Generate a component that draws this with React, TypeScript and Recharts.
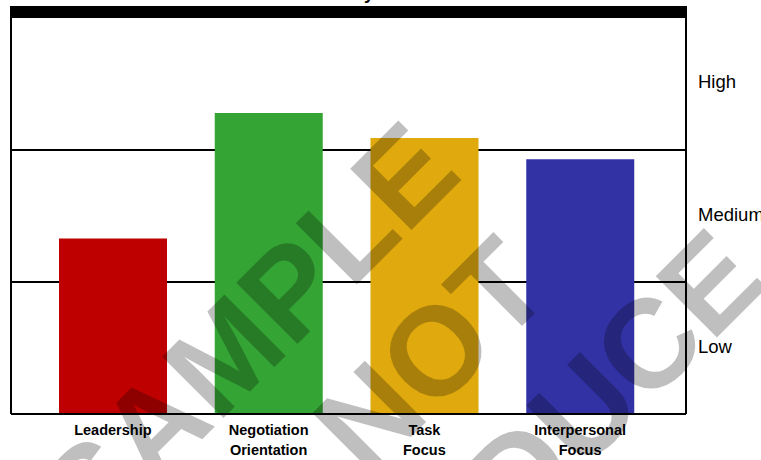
import { Bar, BarChart, CartesianGrid, Cell, ReferenceArea, XAxis, YAxis } from "recharts";

const FONT = '"Liberation Sans", Arial, Helvetica, sans-serif';

// scale categories, "\n" splits the two label lines
const CATEGORIES = ["Leadership", "Negotiation\nOrientation", "Task\nFocus", "Interpersonal\nFocus"];
const SCORES = [1.33, 2.28, 2.09, 1.93];
const COLORS = ["#BE0000", "#34A535", "#E0AA0E", "#3232A5"];

// Low / Medium / High bands, one unit each
const BAND_LINES = [1, 2];
const LEVEL_TICKS = [0.5, 1.5, 2.5];
const LEVEL_LABELS = ["Low", "Medium", "High"];
const LEVEL_MAX = 3;
const HEADER_TOP = 3.09;

const WATERMARK_LINES = ["SAMPLE", "DO NOT", "REPRODUCE"];

const data = CATEGORIES.map((name, i) => ({ name, score: SCORES[i] }));

function CategoryTick({ x, y, payload }: { x: number; y: number; payload: { value: string } }) {
  const lines = String(payload.value).split("\n");
  return (
    <text x={x} y={y} textAnchor="middle" fontFamily={FONT} fontWeight="bold" fontSize={14.5} fill="#000">
      {lines.map((l, i) => (
        <tspan key={i} x={x} dy={i === 0 ? 21 : 20}>
          {l}
        </tspan>
      ))}
    </text>
  );
}

export default function App() {
  return (
    <div style={{ position: "absolute", left: 0, top: 0, width: 761, height: 460, background: "#fff", overflow: "hidden" }}>
      <BarChart width={761} height={460} data={data} margin={{ top: 6, right: 0, left: 0, bottom: 0 }}>
        <CartesianGrid vertical={false} horizontalValues={BAND_LINES} stroke="#000" strokeWidth={2} />
        <XAxis
          dataKey="name"
          height={46}
          padding={{ left: 24, right: 28 }}
          axisLine={{ stroke: "#000", strokeWidth: 2 }}
          tickLine={false}
          tickSize={0}
          tickMargin={0}
          interval={0}
          tick={(p: any) => <CategoryTick {...p} />}
        />
        <XAxis xAxisId="full" type="number" hide />
        <YAxis
          width={11}
          domain={[0, HEADER_TOP]}
          ticks={BAND_LINES}
          interval={0}
          tickLine={false}
          tick={() => <g />}
          axisLine={{ stroke: "#000", strokeWidth: 2 }}
          allowDataOverflow
        />
        <YAxis
          yAxisId="right"
          orientation="right"
          width={75}
          domain={[0, HEADER_TOP]}
          ticks={LEVEL_TICKS}
          interval={0}
          tickFormatter={(v: number) => LEVEL_LABELS[LEVEL_TICKS.indexOf(v)] ?? ""}
          tickLine={false}
          tickSize={0}
          tickMargin={12}
          tick={{ fontFamily: FONT, fontSize: 18.5, fill: "#000", dy: -2 }}
          axisLine={{ stroke: "#000", strokeWidth: 2 }}
          allowDataOverflow
        />
        {/* solid header strip across the top of the frame */}
        <ReferenceArea xAxisId="full" y1={LEVEL_MAX} y2={HEADER_TOP} fill="#000" fillOpacity={1} stroke="none" />
        <Bar dataKey="score" barSize={108} isAnimationActive={false}>
          {data.map((_, i) => (
            <Cell key={i} fill={COLORS[i]} />
          ))}
        </Bar>
      </BarChart>
      <svg width={761} height={460} style={{ position: "absolute", left: 0, top: 0, pointerEvents: "none" }}>
        {/* title sits above the crop, only a descender shows */}
        <text x={364} y={-1} fontFamily={FONT} fontWeight="bold" fontSize={18} fill="#000">
          y
        </text>
        <g transform="translate(382.5,465.5) rotate(-45)">
          {WATERMARK_LINES.map((t, i) => (
            <text
              key={t}
              x={0}
              y={(i - 1) * 146}
              textAnchor="middle"
              fontFamily={FONT}
              fontWeight="bold"
              fontSize={126}
              fill="#000"
              fillOpacity={0.25}
            >
              {t}
            </text>
          ))}
        </g>
      </svg>
    </div>
  );
}
